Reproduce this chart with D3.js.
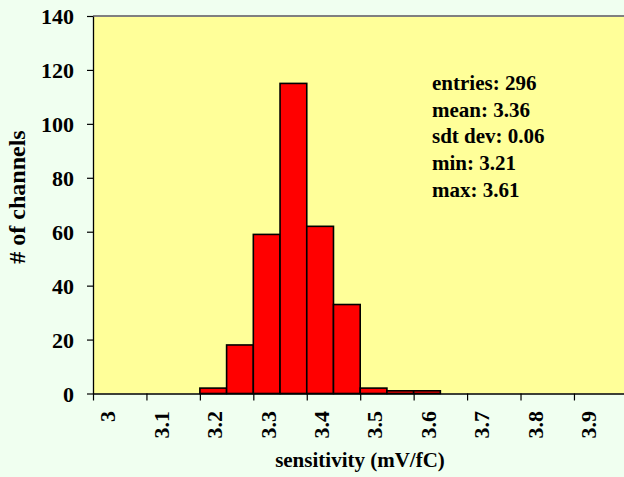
<!DOCTYPE html>
<html>
<head>
<meta charset="utf-8">
<script src="https://cdn.jsdelivr.net/npm/d3@7"></script>
<style>
  body { margin: 0; background: #F0FFF0; }
</style>
</head>
<body>
<svg id="chart" width="624" height="477"></svg>
<script>
// Histogram of channel sensitivities, 0.05 mV/fC bins
const binStarts = [3.20, 3.25, 3.30, 3.35, 3.40, 3.45, 3.50, 3.55, 3.60];
const counts    = [2, 18, 59, 115, 62, 33, 2, 1, 1];
const binWidth  = 0.05;

const xTicks = [3.0, 3.1, 3.2, 3.3, 3.4, 3.5, 3.6, 3.7, 3.8, 3.9];
const yTicks = [0, 20, 40, 60, 80, 100, 120, 140];

const statLines = ["entries: 296", "mean: 3.36", "sdt dev: 0.06", "min: 3.21", "max: 3.61"];

const W = 624, H = 477;
const plot = { left: 93, right: 627.4, top: 16, bottom: 393.5 };
const FONT = "'Liberation Serif', 'Times New Roman', Times, serif";

const svg = d3.select("#chart");

const x = d3.scaleLinear().domain([3.0, 4.0]).range([plot.left, plot.right]);
const y = d3.scaleLinear().domain([0, 140]).range([plot.bottom, plot.top]);

function serif(sel, size) {
  return sel.attr("font-family", FONT)
    .style("font-family", FONT)
    .style("font-weight", "bold")
    .style("font-size", size + "px")
    .attr("fill", "#000");
}

// plot area
svg.append("rect")
  .attr("x", plot.left).attr("y", plot.top)
  .attr("width", W - plot.left).attr("height", plot.bottom - plot.top)
  .attr("fill", "#FFFF99");
svg.append("line")
  .attr("x1", plot.left).attr("x2", W)
  .attr("y1", plot.top).attr("y2", plot.top)
  .attr("stroke", "#808080").attr("stroke-width", 2);

// bars
const bins = binStarts.map((s, i) => ({ x0: s, x1: s + binWidth, n: counts[i] }));
svg.append("g").selectAll("rect")
  .data(bins)
  .join("rect")
  .attr("x", d => x(d.x0))
  .attr("y", d => y(d.n))
  .attr("width", d => x(d.x1) - x(d.x0))
  .attr("height", d => y(0) - y(d.n))
  .attr("fill", "#FF0000")
  .attr("stroke", "#000")
  .attr("stroke-width", 1.6);

// y axis
const yAxis = svg.append("g")
  .attr("transform", `translate(${plot.left},0)`)
  .call(d3.axisLeft(y).tickValues(yTicks).tickSize(6).tickSizeOuter(0).tickPadding(13));
yAxis.attr("font-family", FONT);
yAxis.select(".domain").attr("stroke", "#000").attr("stroke-width", 1.3);
yAxis.selectAll(".tick line").attr("stroke", "#000").attr("stroke-width", 1.2);
serif(yAxis.selectAll(".tick text"), 22)
  .attr("dy", "0.36em");

// x axis
const xAxis = svg.append("g")
  .attr("transform", `translate(0,${plot.bottom})`)
  .call(d3.axisBottom(x).tickValues(xTicks).tickSize(7).tickSizeOuter(0).tickFormat(d3.format("")));
xAxis.attr("font-family", FONT);
xAxis.select(".domain").attr("stroke", "#000").attr("stroke-width", 1.3);
xAxis.selectAll(".tick line").attr("stroke", "#000").attr("stroke-width", 1.2);
serif(xAxis.selectAll(".tick text"), 22)
  .attr("text-anchor", "end")
  .attr("transform", "rotate(-90)")
  .attr("x", -17.5)
  .attr("y", 14)
  .attr("dy", "0.35em");

// axis titles
serif(svg.append("text"), 21)
  .attr("x", 360).attr("y", 467)
  .attr("text-anchor", "middle")
  .text("sensitivity (mV/fC)");

serif(svg.append("text"), 24)
  .attr("transform", "translate(17,197) rotate(-90)")
  .attr("text-anchor", "middle")
  .attr("dy", "0.35em")
  .text("# of channels");

// summary statistics
serif(svg.append("g").selectAll("text")
  .data(statLines)
  .join("text"), 21)
  .attr("x", 432)
  .attr("y", (d, i) => 90 + i * 26.7)
  .text(d => d);
</script>
</body>
</html>
